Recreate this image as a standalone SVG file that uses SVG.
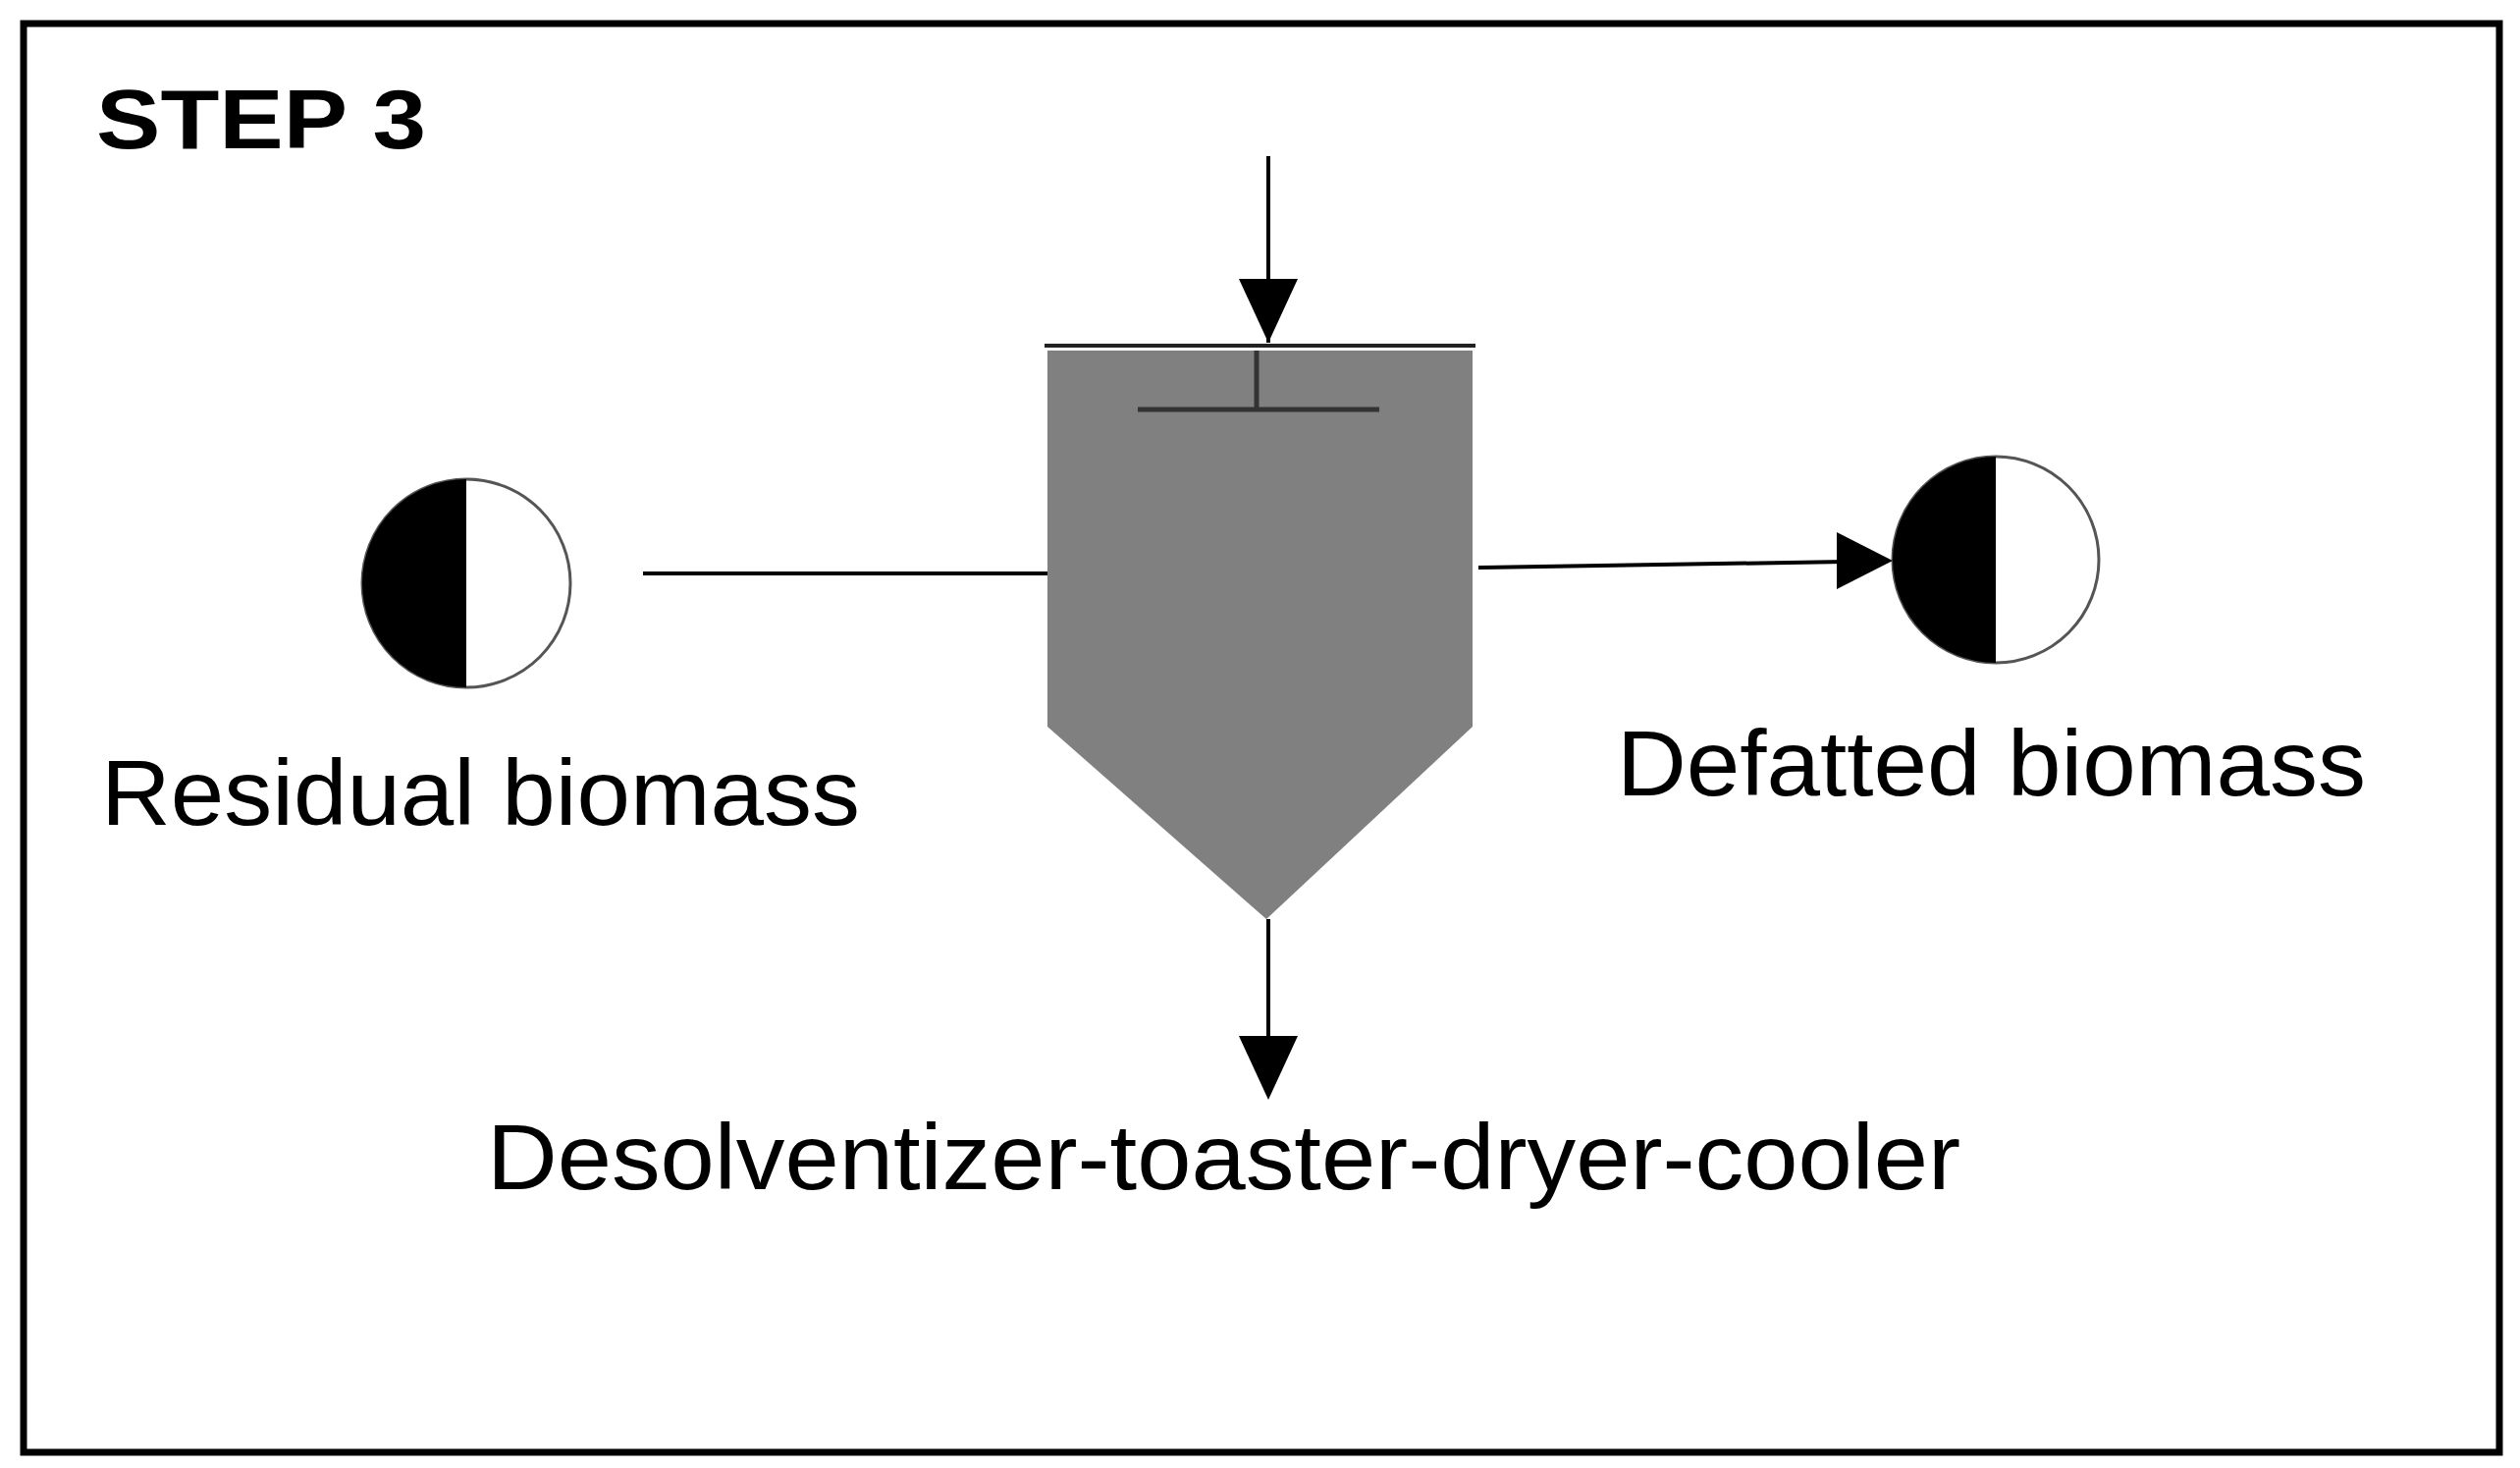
<svg xmlns="http://www.w3.org/2000/svg" width="2567" height="1495" viewBox="0 0 2567 1495">
<style>
.t{font-family:"Liberation Sans",Arial,sans-serif;font-size:94px;fill:#000}
</style>
<rect x="0" y="0" width="2567" height="1495" fill="#fff"/>
<rect x="24" y="24" width="2522" height="1455" fill="none" stroke="#000" stroke-width="7"/>
<text x="98" y="151" textLength="336" lengthAdjust="spacingAndGlyphs" style="font-family:'Liberation Sans',Arial,sans-serif;font-weight:bold;font-size:86px">STEP 3</text>
<g id="unit">
<path d="M1067,357 H1500 V740 L1290,936 L1067,740 Z" fill="#808080"/>
<line x1="1064" y1="352" x2="1503" y2="352" stroke="#222" stroke-width="4"/>
<path d="M1280,357 V417 M1159,417 H1405" stroke="#333" stroke-width="5" fill="none"/>
</g>
<g id="residual">
<circle cx="475" cy="594" r="106" fill="#fff" stroke="#555" stroke-width="3"/>
<path d="M475,488 A106,106 0 0 0 475,700 Z" fill="#000"/>
<text class="t" x="103" y="840" textLength="773" lengthAdjust="spacingAndGlyphs">Residual  biomass</text>
</g>
<g id="defatted">
<circle cx="2033" cy="570" r="105" fill="#fff" stroke="#555" stroke-width="3"/>
<path d="M2033,465 A105,105 0 0 0 2033,675 Z" fill="#000"/>
<text class="t" x="1647" y="810" textLength="763" lengthAdjust="spacingAndGlyphs">Defatted biomass</text>
</g>
<text class="t" x="496" y="1211" textLength="1501" lengthAdjust="spacingAndGlyphs">Desolventizer-toaster-dryer-cooler</text>
<g id="connectors">
<line x1="1292" y1="159" x2="1292" y2="349" stroke="#000" stroke-width="4"/>
<path d="M1262,284 L1322,284 L1292,349 Z" fill="#000"/>
<line x1="655" y1="584" x2="1067" y2="584" stroke="#000" stroke-width="4"/>
<line x1="1506" y1="578" x2="1880" y2="572" stroke="#000" stroke-width="4"/>
<path d="M1871,542 L1928,571 L1871,600 Z" fill="#000"/>
<line x1="1292" y1="936" x2="1292" y2="1060" stroke="#000" stroke-width="4"/>
<path d="M1262,1055 L1322,1055 L1292,1120 Z" fill="#000"/>
</g>
</svg>
